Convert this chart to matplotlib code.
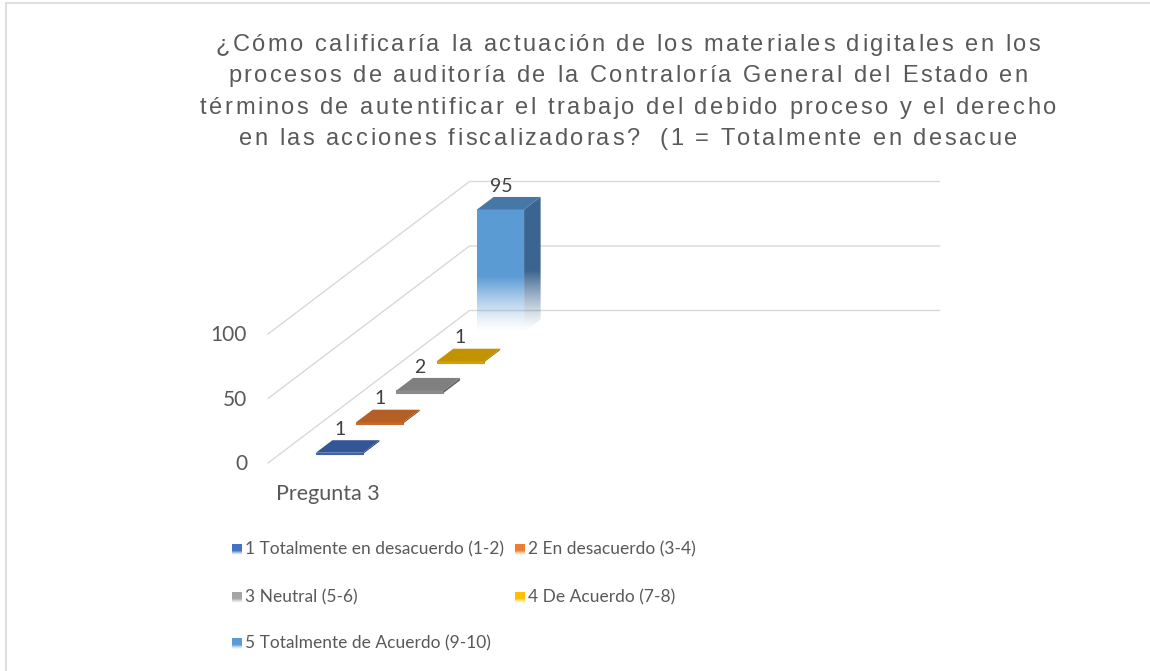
import numpy as np
import matplotlib
matplotlib.use("Agg")
import matplotlib.pyplot as plt
from matplotlib.patches import Polygon, Rectangle
from matplotlib import font_manager, ft2font
from matplotlib.font_manager import FontProperties

# ---------------- data ----------------
title_lines = [
    "¿Cómo calificaría la actuación de los materiales digitales en los",
    "procesos de auditoría de la Contraloría General del Estado en",
    "términos de autentificar el trabajo del debido proceso y el derecho",
    "en las acciones fiscalizadoras?  (1 = Totalmente en desacue",
]
category = "Pregunta 3"
series_names = [
    "1 Totalmente en desacuerdo (1-2)",
    "2 En desacuerdo (3-4)",
    "3 Neutral (5-6)",
    "4 De Acuerdo (7-8)",
    "5 Totalmente de Acuerdo (9-10)",
]
values = [1, 1, 2, 1, 95]
y_ticks = [0, 50, 100]

# ---------------- styles ----------------
legend_colors = ["#4472c4", "#ed7d31", "#a5a5a5", "#ffc000", "#5b9bd5"]
front_colors = ["#3c64a8", "#c8692a", "#8c8c8c", "#d4a200", "#5b9bd5"]
top_colors = ["#335796", "#b45f26", "#7f7f7f", "#c19300", "#4677a6"]
side_colors = ["#27457a", "#8f4a1c", "#666666", "#9a7500", "#3b6591"]
grid_color = "#d9d9d9"
text_color = "#595959"

W, H = 1150, 671
DPI = 100
fig = plt.figure(figsize=(W / DPI, H / DPI), dpi=DPI)
ax = fig.add_axes([0, 0, 1, 1])
ax.set_xlim(0, W)
ax.set_ylim(H, 0)
ax.axis("off")

# ---------------- pseudo-3D projection ----------------
ORIGIN = (268.0, 463.0)       # front-left corner of floor
DEPTH_STEP = (40.3, -30.5)    # per series slot
VAL_SCALE = 1.29              # px per unit
CAT_WIDTH = 470.0
N = len(values)


def proj(h, d, v):
    return (ORIGIN[0] + h + DEPTH_STEP[0] * d,
            ORIGIN[1] + DEPTH_STEP[1] * d - VAL_SCALE * v)


def gradient_fill(poly, color, solid_until, zorder):
    pts = np.array(poly)
    x0, x1 = pts[:, 0].min(), pts[:, 0].max()
    ytop, ybot = pts[:, 1].min(), pts[:, 1].max()
    n = 200
    rgb = np.array(matplotlib.colors.to_rgb(color))
    frac = np.linspace(0, 1, n)
    a = np.clip((1 - frac) / (1 - solid_until), 0, 1) ** 1.3
    img = np.ones((n, 1, 4))
    img[:, 0, :3] = rgb
    img[:, 0, 3] = a
    im = ax.imshow(img, extent=(x0, x1, ybot, ytop), origin="upper",
                   aspect="auto", interpolation="bilinear", zorder=zorder)
    clip = Polygon(poly, closed=True, transform=ax.transData,
                   facecolor="none", edgecolor="none")
    ax.add_patch(clip)
    im.set_clip_path(clip)


# gridlines: left wall + back wall
for t in y_ticks:
    xs, ys = zip(proj(0, 0, t), proj(0, N, t), proj(CAT_WIDTH, N, t))
    ax.plot(xs, ys, color=grid_color, lw=1.0, zorder=1)
    fx, fy = proj(0, 0, t)
    ax.text(fx - 21, fy + 1, f"{t}", ha="right", va="center", fontsize=15,
            color=text_color, family="Lato")

# category label
ax.text(328, 494, category, ha="center", va="center", fontsize=15.5,
        color=text_color, family="Lato")

h0, h1 = 36.0, 83.0
dpad = 0.295
for i, (v, name) in enumerate(zip(values, series_names)):
    d0, d1 = i + dpad, i + 1 - dpad
    front = [proj(h0, d0, 0), proj(h1, d0, 0), proj(h1, d0, v), proj(h0, d0, v)]
    top = [proj(h0, d0, v), proj(h1, d0, v), proj(h1, d1, v), proj(h0, d1, v)]
    side = [proj(h1, d0, 0), proj(h1, d1, 0), proj(h1, d1, v), proj(h1, d0, v)]
    if v > 20:
        gradient_fill(front, front_colors[i], 0.55, 3)
        gradient_fill(side, side_colors[i], 0.55, 3)
        ax.add_patch(Polygon(top, closed=True, facecolor=top_colors[i],
                             edgecolor="none", zorder=4))
    else:
        ax.add_patch(Polygon(front, closed=True, facecolor=front_colors[i],
                             edgecolor=front_colors[i], lw=0.8, zorder=3))
        ax.add_patch(Polygon(side, closed=True, facecolor=side_colors[i],
                             edgecolor="none", zorder=3))
        ax.add_patch(Polygon(top, closed=True, facecolor=top_colors[i],
                             edgecolor="none", zorder=4))
    lx, ly = proj((h0 + h1) / 2, (d0 + d1) / 2, v)
    ax.text(lx - 8, ly - 17, f"{v}", ha="center", va="center", fontsize=14,
            color="#404040", family="Lato", zorder=5)

# title with letter spacing
TITLE_SIZE = 17
TRACK = 2.5
fpath = font_manager.findfont(FontProperties(family="Liberation Sans"))
ft = ft2font.FT2Font(fpath)
ft.set_size(TITLE_SIZE, DPI)


def advance(ch):
    g = ft.load_char(ord(ch))
    return g.linearHoriAdvance / 65536.0


for k, line in enumerate(title_lines):
    advs = [advance(c) for c in line]
    total = sum(advs) + TRACK * (len(line) - 1)
    x = 628 - total / 2
    y = 45 + 31.3 * k
    for c, a in zip(line, advs):
        if c != " ":
            ax.text(x, y, c, ha="left", va="center", fontsize=TITLE_SIZE,
                    color=text_color, family="Liberation Sans")
        x += a + TRACK

# legend (row-major, 2 columns)
col_x = [232, 515]
row_y = [549, 597, 643]
for k, (name, col) in enumerate(zip(series_names, legend_colors)):
    r, c = divmod(k, 2)
    x, y = col_x[c], row_y[r]
    sq = [(x, y - 5), (x + 10, y - 5), (x + 10, y + 6), (x, y + 6)]
    gradient_fill(sq, col, 0.6, 2)
    ax.text(x + 13, y, name, ha="left", va="center", fontsize=12.5,
            color=text_color, family="Lato")

# chart border (top and left visible)
ax.plot([5.5, W], [2.5, 2.5], color="#d9d9d9", lw=1.2)
ax.plot([5.5, 5.5], [2.5, H], color="#d9d9d9", lw=1.2)

fig.savefig("out.png", dpi=DPI)
